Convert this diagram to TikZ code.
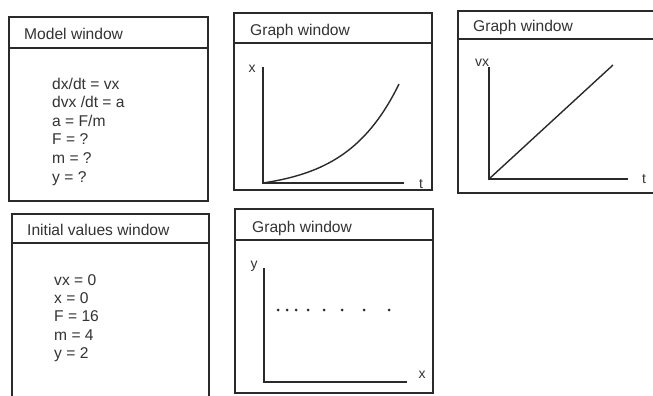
\documentclass[tikz,border=0pt]{standalone}
\usepackage{fontspec}
\setmainfont{Liberation Sans}
\definecolor{ink}{HTML}{2A2A2A}
\definecolor{txt}{HTML}{333333}
\tikzset{
  win/.style={draw=ink, line width=1.1pt},
  axis/.style={draw=ink, line width=1.2pt},
  curve/.style={draw=ink, line width=1.4pt},
  title/.style={anchor=base west, inner sep=0pt, text=txt, font=\fontsize{15.6}{18}\selectfont},
  body/.style={anchor=base west, inner sep=0pt, text=txt, font=\fontsize{15.6}{18}\selectfont},
  albl/.style={anchor=base, inner sep=0pt, text=txt, font=\fontsize{14}{16}\selectfont},
  dot/.style={fill=ink, draw=none}
}
\begin{document}
\begin{tikzpicture}[x=1pt, y=-1pt]
\useasboundingbox (0,0) rectangle (653,396);
\clip (0,0) rectangle (653,396);
\fill[white] (0,0) rectangle (653,396);

% Model window
\draw[win] (9,17) rectangle (208,201);
\draw[win] (9,48) -- (208,48);
\node[title] (t1) at (24,40) {Model window};
\node[body] (m1) at (52,89) {dx/dt = vx};
\node[body] (m2) at (52,107.6) {dvx /dt = a};
\node[body] (m3) at (52,126.2) {a = F/m};
\node[body] (m4) at (52,144.8) {F = ?};
\node[body] (m5) at (52,163.4) {m = ?};
\node[body] (m6) at (52,182) {y = ?};

% Graph window x vs t
\draw[win] (234,13) rectangle (432,190);
\draw[win] (234,43) -- (432,43);
\node[title] (t2) at (250,36) {Graph window};
\coordinate (o2) at (263,183);
\draw[axis] (263,67) -- (o2) -- (404,183);
\node[albl] (x2) at (252,72.5) {x};
\node[albl] (tt2) at (421,188) {t};
\draw[curve] plot[domain=0:1, samples=50, smooth] ({263+136*\x}, {183-99*(exp(2.6*\x)-1)/(exp(2.6)-1)});

% Graph window vx vs t
\draw[win] (458,11) rectangle (662,193);
\draw[win] (458,39) -- (662,39);
\node[title] (t3) at (473,32) {Graph window};
\coordinate (o3) at (489,179);
\coordinate (e3) at (613,65);
\draw[axis] (489,67) -- (o3) -- (628,179);
\draw[curve] (o3) -- (e3);
\node[albl] (v3) at (482,66.7) {vx};
\node[albl] (tt3) at (644,183) {t};

% Initial values window
\draw[win] (12,400) -- (12,214) -- (209,214) -- (209,400);
\draw[win] (12,243) -- (209,243);
\node[title] (t4) at (27,235) {Initial values window};
\node[body] (i1) at (54,285) {vx = 0};
\node[body] (i2) at (54,303.4) {x = 0};
\node[body] (i3) at (54,321.8) {F = 16};
\node[body] (i4) at (54,340.2) {m = 4};
\node[body] (i5) at (54,358.6) {y = 2};

% Graph window y vs x
\draw[win] (235,209) rectangle (433,393);
\draw[win] (235,240) -- (433,240);
\node[title] (t5) at (252,232) {Graph window};
\coordinate (o5) at (264,382);
\draw[axis] (264,268) -- (o5) -- (407,382);
\node[albl] (y5) at (254,268) {y};
\node[albl] (x5) at (422,378) {x};
\foreach \px [count=\i] in {278,287,296,308,324,342,364,389}
  \fill[dot] (\px,310) circle (1.5);
\end{tikzpicture}
\end{document}
